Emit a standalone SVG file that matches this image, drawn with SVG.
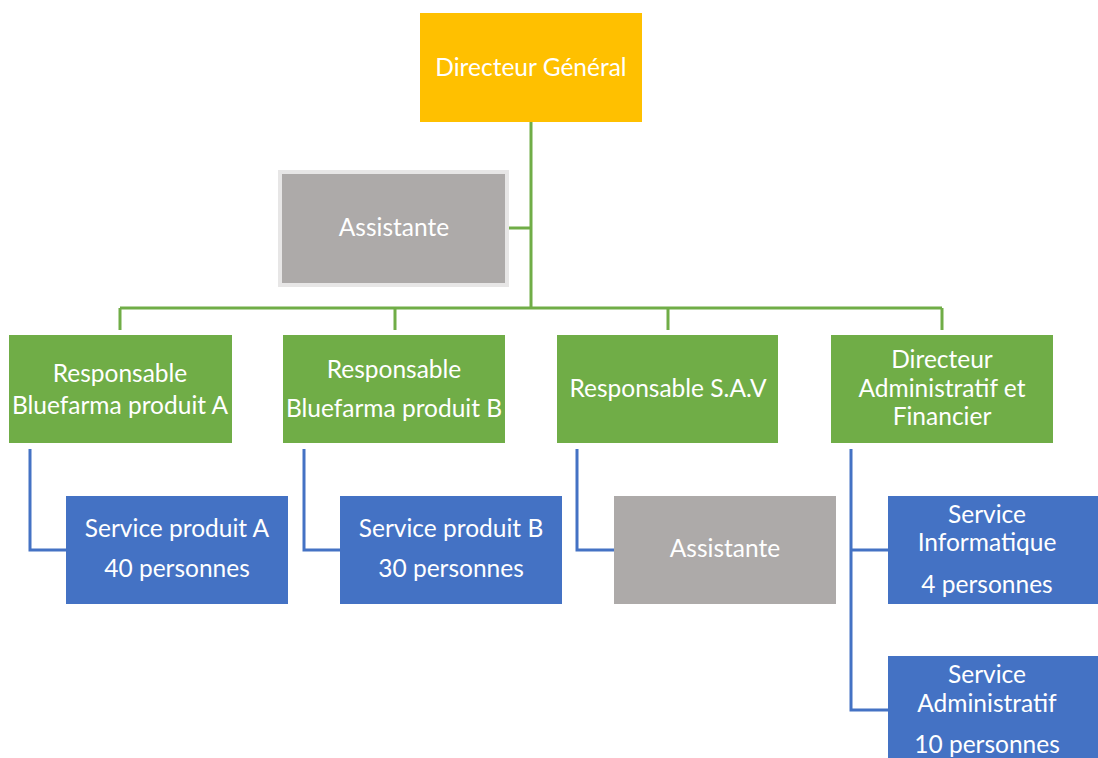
<svg xmlns="http://www.w3.org/2000/svg" width="1098" height="758" viewBox="0 0 1098 758">
<style>
.t{font-family:Lato,"Open Sans","Liberation Sans",sans-serif;font-size:24.5px;fill:#fff;text-anchor:middle}
.g{stroke:#70AD47;stroke-width:3;fill:none}
.b{stroke:#4472C4;stroke-width:3;fill:none}
</style>
<rect width="1098" height="758" fill="#fff"/>
<g id="connectors">
<path class="g" d="M531 122V308M509 228H531M120 308H942M120 308V330M395 308V330M668 308V330M942 308V330"/>
<path class="b" d="M30 449V550H66M304 449V550H340M577 449V550H614M851 449V710H888M851 550H888"/>
</g>
<g id="dg"><rect x="420" y="13" width="222" height="109" fill="#FFC000"/><text class="t" x="531" y="76">Directeur Général</text></g>
<g id="assistante1"><rect x="280" y="172" width="227" height="113" fill="#ADAAA9" stroke="#E7E6E6" stroke-width="4"/><text class="t" x="394" y="236">Assistante</text></g>
<g id="respA"><rect x="9" y="335" width="223" height="108" fill="#70AD47"/><text class="t" x="120" y="382">Responsable</text><text class="t" x="120" y="414">Bluefarma produit A</text></g>
<g id="respB"><rect x="283" y="335" width="222" height="108" fill="#70AD47"/><text class="t" x="394" y="378">Responsable</text><text class="t" x="394" y="417">Bluefarma produit B</text></g>
<g id="respSAV"><rect x="557" y="335" width="221" height="108" fill="#70AD47"/><text class="t" x="668" y="397">Responsable S.A.V</text></g>
<g id="daf"><rect x="831" y="335" width="222" height="108" fill="#70AD47"/><text class="t" x="942" y="368">Directeur</text><text class="t" x="942" y="397">Administratif et</text><text class="t" x="942" y="425">Financier</text></g>
<g id="servA"><rect x="66" y="496" width="222" height="108" fill="#4472C4"/><text class="t" x="177" y="537">Service produit A</text><text class="t" x="177" y="577">40 personnes</text></g>
<g id="servB"><rect x="340" y="496" width="222" height="108" fill="#4472C4"/><text class="t" x="451" y="537">Service produit B</text><text class="t" x="451" y="577">30 personnes</text></g>
<g id="assistante2"><rect x="614" y="496" width="222" height="108" fill="#ADAAA9"/><text class="t" x="725" y="557">Assistante</text></g>
<g id="servInfo"><rect x="888" y="496" width="210" height="108" fill="#4472C4"/><text class="t" x="987" y="523">Service</text><text class="t" x="987" y="551">Informatique</text><text class="t" x="987" y="593">4 personnes</text></g>
<g id="servAdmin"><rect x="888" y="656" width="210" height="102" fill="#4472C4"/><text class="t" x="987" y="683">Service</text><text class="t" x="987" y="712">Administratif</text><text class="t" x="987" y="753">10 personnes</text></g>
</svg>
